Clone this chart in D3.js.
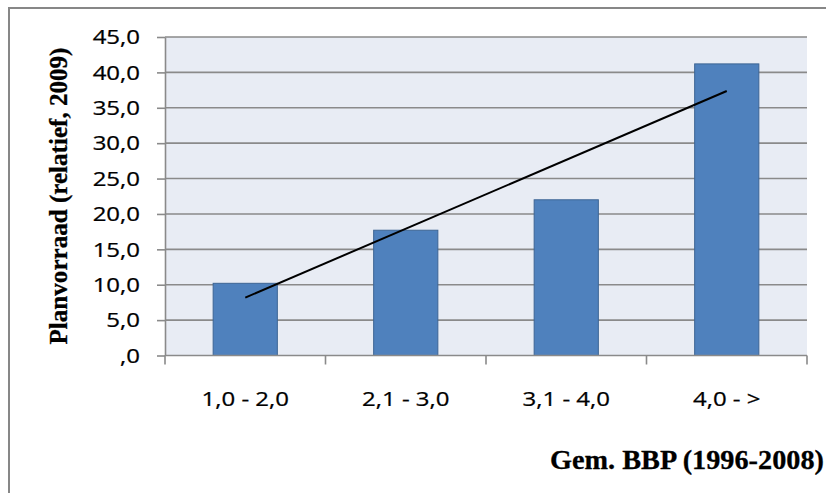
<!DOCTYPE html>
<html>
<head>
<meta charset="utf-8">
<script src="https://cdn.jsdelivr.net/npm/d3@7/dist/d3.min.js"></script>
<style>
  html, body { margin: 0; padding: 0; background: #ffffff; }
  svg { display: block; }
</style>
</head>
<body>
<svg id="chart" width="826" height="493"></svg>
<script>
// Planvorraad per klasse van gemiddelde BBP-groei
const categories = ["1,0 - 2,0", "2,1 - 3,0", "3,1 - 4,0", "4,0 - >"];
const values = [10.2, 17.7, 22.0, 41.2];
const yTicks = [0, 5, 10, 15, 20, 25, 30, 35, 40, 45];
const yTitle = "Planvorraad (relatief, 2009)";
const xTitle = "Gem. BBP (1996-2008)";

const W = 826, H = 493;
const plot = { left: 165, right: 807, top: 37, bottom: 355.5 };
const stretch = 1.2; // horizontal glyph width of the tick labels
const gridColor = "#8a8a8a";

const svg = d3.select("#chart");

// outer chart frame (open towards right and bottom edges)
svg.append("rect")
  .attr("x", 9).attr("y", 8)
  .attr("width", W + 20).attr("height", H + 20)
  .attr("fill", "#ffffff")
  .attr("stroke", "#878787")
  .attr("stroke-width", 2);

const x = d3.scaleBand()
  .domain(categories)
  .range([plot.left, plot.right])
  .paddingInner(0.6)
  .paddingOuter(0.3);

const y = d3.scaleLinear()
  .domain([0, 45])
  .range([plot.bottom, plot.top]);

// plot background
svg.append("rect")
  .attr("x", plot.left).attr("y", plot.top)
  .attr("width", plot.right - plot.left)
  .attr("height", plot.bottom - plot.top)
  .attr("fill", "#e8ecf4");

// horizontal gridlines
svg.append("g").selectAll("line")
  .data(yTicks.filter(d => d > 0))
  .join("line")
  .attr("x1", plot.left).attr("x2", plot.right)
  .attr("y1", d => y(d)).attr("y2", d => y(d))
  .attr("stroke", gridColor)
  .attr("stroke-width", 1.6);

// y axis with outward ticks
const yAxis = svg.append("g")
  .attr("transform", `translate(${plot.left},0)`)
  .call(d3.axisLeft(y).tickValues(yTicks).tickSize(8).tickSizeOuter(0).tickFormat(""));
yAxis.select(".domain").attr("stroke", gridColor).attr("stroke-width", 1.6);
yAxis.selectAll(".tick line").attr("stroke", gridColor).attr("stroke-width", 1.6);

const fmt = d => (d === 0 ? ",0" : d.toFixed(1).replace(".", ","));

svg.append("g").selectAll("g")
  .data(yTicks)
  .join("g")
  .attr("transform", d => `translate(140,${y(d)}) scale(${stretch},1)`)
  .append("text")
  .attr("text-anchor", "end")
  .attr("dy", "0.36em")
  .attr("font-family", "'Open Sans', sans-serif")
  .attr("font-size", 20)
  .attr("stroke", "#000")
  .attr("stroke-width", 0.25)
  .attr("fill", "#000")
  .text(fmt);

// bars
svg.append("g").selectAll("rect")
  .data(values)
  .join("rect")
  .attr("x", (d, i) => x(categories[i]))
  .attr("width", x.bandwidth())
  .attr("y", d => y(d))
  .attr("height", d => y(0) - y(d))
  .attr("fill", "#4f81bd")
  .attr("stroke", "#3d6594")
  .attr("stroke-width", 1);

// x axis baseline and category boundary ticks
const step = x.step();
const bounds = d3.range(categories.length + 1).map(i => plot.left + i * step);
svg.append("line")
  .attr("x1", plot.left).attr("x2", plot.right)
  .attr("y1", plot.bottom).attr("y2", plot.bottom)
  .attr("stroke", gridColor).attr("stroke-width", 1.6);
svg.append("g").selectAll("line")
  .data(bounds)
  .join("line")
  .attr("x1", d => d).attr("x2", d => d)
  .attr("y1", plot.bottom).attr("y2", plot.bottom + 9)
  .attr("stroke", gridColor).attr("stroke-width", 1.6);

// category labels
svg.append("g").selectAll("g")
  .data(categories)
  .join("g")
  .attr("transform", d => `translate(${x(d) + x.bandwidth() / 2},406) scale(${stretch},1)`)
  .append("text")
  .attr("text-anchor", "middle")
  .attr("font-family", "'Open Sans', sans-serif")
  .attr("font-size", 20)
  .attr("stroke", "#000")
  .attr("stroke-width", 0.25)
  .attr("fill", "#000")
  .text(d => d);

// linear trend line (least squares over category index)
const n = values.length;
const xs = d3.range(1, n + 1);
const mx = d3.mean(xs), my = d3.mean(values);
const slope = d3.sum(xs, (v, i) => (v - mx) * (values[i] - my)) / d3.sum(xs, v => (v - mx) ** 2);
const icpt = my - slope * mx;
const trend = [1, n].map(k => ({ cat: categories[k - 1], v: icpt + slope * k }));
svg.append("path")
  .datum(trend)
  .attr("fill", "none")
  .attr("stroke", "#000")
  .attr("stroke-width", 2)
  .attr("d", d3.line()
    .x(d => x(d.cat) + x.bandwidth() / 2)
    .y(d => y(d.v)));

// axis titles, sized so that each spans its intended length
function fitTitle(sel, length) {
  const base = 20;
  sel.attr("font-size", base);
  const w = sel.node().getComputedTextLength();
  sel.attr("font-size", base * length / w);
}

const yt = svg.append("text")
  .attr("transform", "translate(58,196) rotate(-90)")
  .attr("text-anchor", "middle")
  .attr("dy", "0.35em")
  .attr("font-family", "'Liberation Serif', serif")
  .attr("font-weight", "bold")
  .attr("stroke", "#000")
  .attr("stroke-width", 0.3)
  .attr("fill", "#000")
  .text(yTitle);
fitTitle(yt, 297);

const xt = svg.append("text")
  .attr("x", 687).attr("y", 469)
  .attr("text-anchor", "middle")
  .attr("font-family", "'Liberation Serif', serif")
  .attr("font-weight", "bold")
  .attr("stroke", "#000")
  .attr("stroke-width", 0.3)
  .attr("fill", "#000")
  .text(xTitle);
fitTitle(xt, 274);
</script>
</body>
</html>
